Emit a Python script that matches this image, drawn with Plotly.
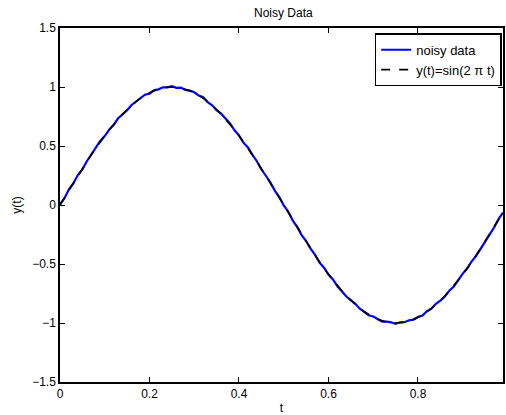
import plotly.graph_objects as go

t = [round(k * 0.01, 2) for k in range(100)]

sine_y = [0.0, 0.0628, 0.1253, 0.1874, 0.2487, 0.3090, 0.3681, 0.4258, 0.4818, 0.5358,
          0.5878, 0.6374, 0.6845, 0.7290, 0.7705, 0.8090, 0.8443, 0.8763, 0.9048, 0.9298,
          0.9511, 0.9686, 0.9823, 0.9921, 0.9980, 1.0, 0.9980, 0.9921, 0.9823, 0.9686,
          0.9511, 0.9298, 0.9048, 0.8763, 0.8443, 0.8090, 0.7705, 0.7290, 0.6845, 0.6374,
          0.5878, 0.5358, 0.4818, 0.4258, 0.3681, 0.3090, 0.2487, 0.1874, 0.1253, 0.0628,
          0.0, -0.0628, -0.1253, -0.1874, -0.2487, -0.3090, -0.3681, -0.4258, -0.4818, -0.5358,
          -0.5878, -0.6374, -0.6845, -0.7290, -0.7705, -0.8090, -0.8443, -0.8763, -0.9048, -0.9298,
          -0.9511, -0.9686, -0.9823, -0.9921, -0.9980, -1.0, -0.9980, -0.9921, -0.9823, -0.9686,
          -0.9511, -0.9298, -0.9048, -0.8763, -0.8443, -0.8090, -0.7705, -0.7290, -0.6845, -0.6374,
          -0.5878, -0.5358, -0.4818, -0.4258, -0.3681, -0.3090, -0.2487, -0.1874, -0.1253, -0.0628]

noisy_y = [0.005, 0.058, 0.133, 0.185, 0.254, 0.302, 0.371, 0.427, 0.476, 0.543,
           0.584, 0.639, 0.680, 0.735, 0.769, 0.803, 0.848, 0.878, 0.901, 0.935,
           0.944, 0.972, 0.980, 0.997, 0.997, 1.007, 0.993, 0.995, 0.976, 0.970,
           0.955, 0.927, 0.913, 0.872, 0.845, 0.803, 0.774, 0.728, 0.691, 0.633,
           0.590, 0.528, 0.487, 0.425, 0.371, 0.303, 0.250, 0.193, 0.122, 0.067,
           -0.003, -0.056, -0.130, -0.186, -0.255, -0.305, -0.369, -0.423, -0.489, -0.531,
           -0.590, -0.631, -0.689, -0.729, -0.776, -0.806, -0.837, -0.879, -0.903, -0.934,
           -0.945, -0.970, -0.988, -0.989, -0.994, -1.008, -0.994, -0.993, -0.977, -0.972,
           -0.949, -0.936, -0.900, -0.879, -0.837, -0.810, -0.775, -0.726, -0.691, -0.636,
           -0.581, -0.539, -0.478, -0.431, -0.368, -0.302, -0.251, -0.191, -0.120, -0.064]

x_ticks = [0, 0.2, 0.4, 0.6, 0.8]
x_tick_labels = ["0", "0.2", "0.4", "0.6", "0.8"]
y_ticks = [-1.5, -1, -0.5, 0, 0.5, 1, 1.5]
y_tick_labels = ["\u22121.5", "\u22121", "\u22120.5", "0", "0.5", "1", "1.5"]

font_family = "Liberation Sans, Arial, sans-serif"

fig = go.Figure()
fig.add_trace(go.Scatter(x=t, y=noisy_y, mode="lines", name="noisy data",
                         line=dict(color="#0000ff", width=2.2)))
fig.add_trace(go.Scatter(x=t, y=sine_y, mode="lines", name="y(t)=sin(2 \u03c0 t)",
                         line=dict(color="black", width=1.6, dash="dash")))

axis_common = dict(showline=True, linecolor="black", linewidth=1.5, mirror="ticks",
                   ticks="inside", ticklen=5, tickwidth=1, tickcolor="black",
                   showgrid=False, zeroline=False,
                   tickfont=dict(family=font_family, size=12, color="black"))

fig.update_layout(
    width=506, height=415,
    margin=dict(l=60, r=1, t=28, b=33),
    paper_bgcolor="white", plot_bgcolor="white",
    font=dict(family=font_family, size=12, color="black"),
    title=dict(text="Noisy Data", x=0.56, xanchor="center", y=0.97, yanchor="middle",
               font=dict(family=font_family, size=12, color="black")),
    xaxis=dict(range=[0, 0.99], tickvals=x_ticks, ticktext=x_tick_labels,
               title=dict(text="t", standoff=3, font=dict(size=12)), **axis_common),
    yaxis=dict(range=[-1.5, 1.5], tickvals=y_ticks, ticktext=y_tick_labels,
               title=dict(text="y(t)", standoff=8, font=dict(size=12)), **axis_common),
    legend=dict(x=0.997, y=0.985, xanchor="right", yanchor="top",
                bgcolor="white", bordercolor="black", borderwidth=1.5,
                font=dict(family=font_family, size=13, color="black"),
                tracegroupgap=0, itemwidth=30),
    showlegend=True,
)

fig.write_html("out.html")
